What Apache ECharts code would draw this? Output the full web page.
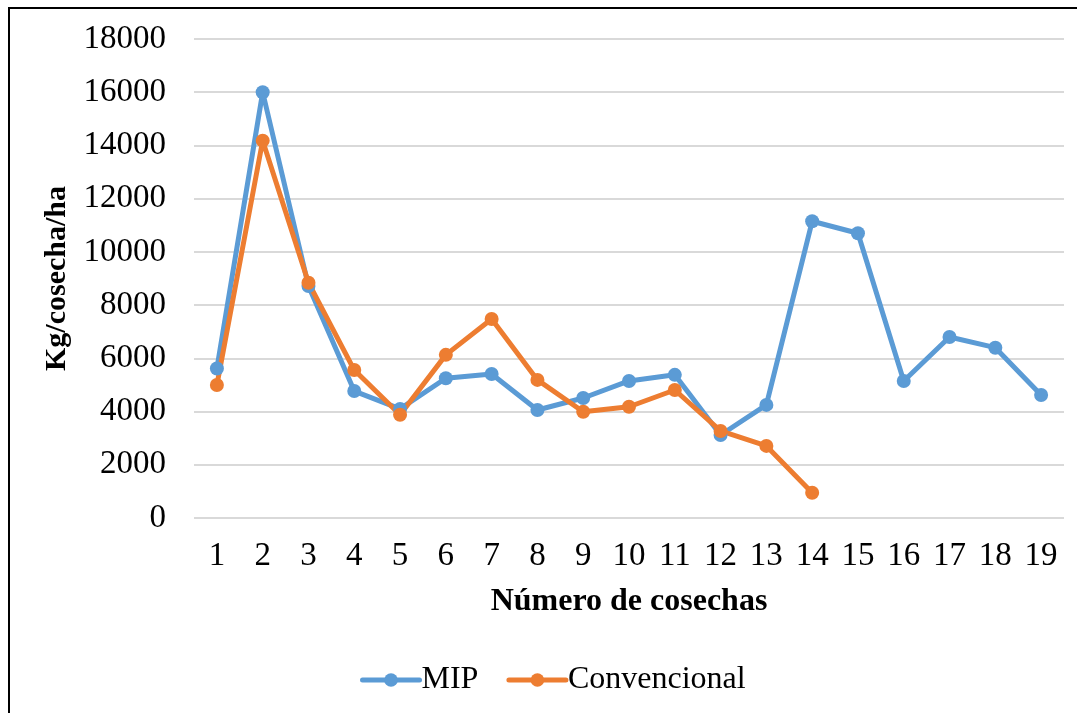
<!DOCTYPE html>
<html>
<head>
<meta charset="utf-8">
<script src="https://cdn.jsdelivr.net/npm/echarts@6/dist/echarts.min.js"></script>
<style>
html,body{margin:0;padding:0;background:#fff;}
#chart{width:1080px;height:713px;}
</style>
</head>
<body>
<div id="chart"></div>
<script>
const categories = ['1','2','3','4','5','6','7','8','9','10','11','12','13','14','15','16','17','18','19'];
const mip = [5620, 16000, 8720, 4770, 4100, 5250, 5410, 4060, 4510, 5150, 5380, 3120, 4250, 11150, 10700, 5150, 6800, 6400, 4620];
const convencional = [5000, 14180, 8840, 5560, 3880, 6130, 7480, 5190, 3990, 4180, 4810, 3270, 2710, 950, null, null, null, null, null];
const yTicks = [0, 2000, 4000, 6000, 8000, 10000, 12000, 14000, 16000, 18000];

const font = '"Liberation Serif", "Times New Roman", serif';
const chart = echarts.init(document.getElementById('chart'), null, {renderer: 'canvas'});
chart.setOption({
  animation: false,
  backgroundColor: '#fff',
  graphic: [{
    type: 'polyline',
    shape: {points: [[9, 713], [9, 8], [1077, 8]]},
    style: {stroke: '#000', lineWidth: 2, fill: null}
  }],
  grid: {left: 194, right: 16, top: 39, bottom: 195, containLabel: false},
  legend: {
    data: ['MIP', 'Convencional'],
    bottom: 12,
    left: 355,
    itemWidth: 57,
    itemHeight: 17,
    itemGap: 28,
    lineStyle: {width: 5, cap: 'round'},
    textStyle: {fontFamily: font, fontSize: 32, color: '#000', padding: [0, 0, 0, -3]}
  },
  xAxis: {
    type: 'category',
    data: categories,
    boundaryGap: true,
    name: 'Número de cosechas',
    nameLocation: 'middle',
    nameGap: 68,
    nameTextStyle: {fontFamily: font, fontSize: 32, fontWeight: 'bold', color: '#000'},
    axisLine: {show: false},
    axisTick: {show: false},
    axisLabel: {fontFamily: font, fontSize: 33, color: '#000', margin: 22}
  },
  yAxis: {
    type: 'value',
    min: yTicks[0],
    max: yTicks[yTicks.length - 1],
    interval: 2000,
    name: 'Kg/cosecha/ha',
    nameLocation: 'middle',
    nameGap: 113,
    nameRotate: 90,
    nameTextStyle: {fontFamily: font, fontSize: 30, fontWeight: 'bold', color: '#000'},
    axisLine: {show: false},
    axisTick: {show: false},
    axisLabel: {fontFamily: font, fontSize: 33, color: '#000', margin: 28, formatter: v => String(v)},
    splitLine: {lineStyle: {color: '#D9D9D9', width: 2}}
  },
  series: [
    {
      name: 'MIP', type: 'line', data: mip,
      symbol: 'circle', symbolSize: 14,
      itemStyle: {color: '#5B9BD5'},
      lineStyle: {color: '#5B9BD5', width: 5}
    },
    {
      name: 'Convencional', type: 'line', data: convencional,
      symbol: 'circle', symbolSize: 14,
      itemStyle: {color: '#ED7D31'},
      lineStyle: {color: '#ED7D31', width: 5}
    }
  ]
});
</script>
</body>
</html>
